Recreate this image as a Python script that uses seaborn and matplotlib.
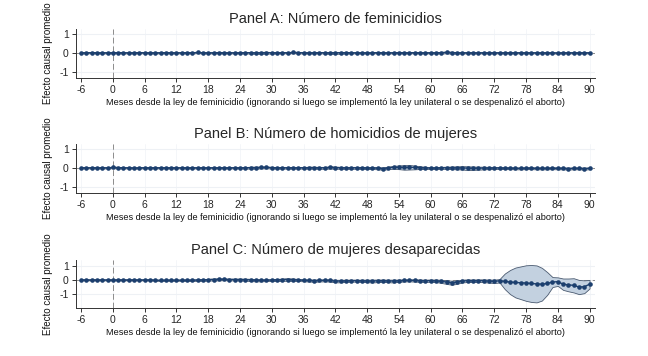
import numpy as np
import seaborn as sns
import matplotlib
matplotlib.use("Agg")
import matplotlib.pyplot as plt

# Months relative to the feminicide law
months = list(range(-6, 91))
xticks = [-6, 0, 6, 12, 18, 24, 30, 36, 42, 48, 54, 60, 66, 72, 78, 84, 90]

titles = ["Panel A: Número de feminicidios",
          "Panel B: Número de homicidios de mujeres",
          "Panel C: Número de mujeres desaparecidas"]
xlabel = "Meses desde la ley de feminicidio (ignorando si luego se implementó la ley unilateral o se despenalizó el aborto)"
ylabel = "Efecto causal promedio"

# Panel A: point estimates and CI half-widths (m = -6 .. 90)
est_a = [0.0, 0.0, 0.01, 0.0, 0.0, 0.0,
         0.0, 0.01, 0.0, 0.0, 0.0, 0.01, 0.0, 0.0, 0.0, 0.0, 0.01, 0.0,
         0.0, 0.0, 0.01, 0.0, 0.02, 0.0, 0.0, 0.0, 0.01, 0.0, 0.0, 0.0,
         0.0, 0.01, 0.0, 0.0, 0.0, 0.01, 0.0, 0.0, 0.01, 0.0, 0.02, 0.01,
         0.0, 0.0, 0.0, 0.01, 0.0, 0.0, 0.0, 0.0, 0.01, 0.0, 0.0, 0.0,
         0.0, 0.0, 0.01, 0.0, 0.0, 0.0, 0.01, 0.0, 0.0, 0.01, 0.0, 0.0,
         0.0, 0.0, 0.01, 0.02, 0.01, 0.0, 0.0, 0.0, 0.0, 0.0, 0.0, 0.0,
         0.0, 0.0, 0.0, 0.0, 0.0, 0.0, 0.0, 0.0, 0.0, 0.0, 0.0, 0.0,
         -0.01, 0.0, 0.0, 0.0, 0.0, 0.0, 0.0]
hw_a = [0.03, 0.03, 0.03, 0.03, 0.03, 0.03,
        0.03, 0.03, 0.03, 0.03, 0.03, 0.03, 0.03, 0.03, 0.03, 0.03, 0.03, 0.03,
        0.03, 0.03, 0.03, 0.03, 0.04, 0.03, 0.03, 0.03, 0.03, 0.03, 0.03, 0.03,
        0.03, 0.04, 0.04, 0.05, 0.05, 0.05, 0.04, 0.03, 0.03, 0.03, 0.04, 0.04,
        0.03, 0.03, 0.03, 0.03, 0.04, 0.05, 0.05, 0.05, 0.04, 0.03, 0.03, 0.03,
        0.03, 0.03, 0.03, 0.03, 0.03, 0.03, 0.03, 0.03, 0.03, 0.03, 0.03, 0.03,
        0.03, 0.03, 0.04, 0.05, 0.05, 0.04, 0.03, 0.03, 0.03, 0.03, 0.03, 0.03,
        0.03, 0.03, 0.03, 0.03, 0.03, 0.03, 0.03, 0.03, 0.03, 0.03, 0.03, 0.03,
        0.03, 0.03, 0.03, 0.03, 0.03, 0.03, 0.03]

# Panel B
est_b = [0.0, 0.0, 0.0, 0.0, 0.0, 0.0,
         0.02, 0.01, 0.0, 0.0, -0.01, 0.0, 0.0, 0.0, 0.0, 0.0, 0.0, 0.0,
         0.0, 0.0, 0.0, 0.0, 0.0, 0.0, 0.0, 0.0, 0.0, 0.0, 0.0, 0.0,
         0.0, 0.0, 0.01, 0.01, 0.02, 0.02, 0.01, 0.0, 0.0, 0.0, 0.0, 0.0,
         0.0, 0.01, 0.01, 0.0, 0.0, 0.02, 0.01, 0.0, 0.0, 0.0, 0.0, 0.0,
         -0.01, -0.01, -0.02, -0.04, 0.0, 0.02, 0.03, 0.02, 0.03, 0.02, 0.01, 0.0,
         -0.02, -0.01, 0.0, 0.0, 0.0, 0.0, 0.0, -0.02, -0.02, -0.02, -0.01, -0.01,
         -0.01, -0.01, -0.02, -0.02, -0.03, -0.03, -0.02, -0.02, -0.03, -0.03, -0.03, -0.02,
         -0.03, -0.03, -0.04, -0.03, -0.03, -0.04, -0.03]
hw_b = [0.03, 0.03, 0.03, 0.03, 0.03, 0.03,
        0.04, 0.04, 0.03, 0.03, 0.03, 0.03, 0.03, 0.03, 0.03, 0.03, 0.03, 0.03,
        0.03, 0.03, 0.03, 0.03, 0.03, 0.03, 0.03, 0.03, 0.03, 0.03, 0.03, 0.03,
        0.03, 0.04, 0.05, 0.05, 0.05, 0.05, 0.04, 0.04, 0.04, 0.04, 0.04, 0.04,
        0.04, 0.05, 0.05, 0.05, 0.05, 0.06, 0.06, 0.05, 0.05, 0.05, 0.05, 0.05,
        0.05, 0.05, 0.06, 0.06, 0.07, 0.08, 0.10, 0.12, 0.12, 0.10, 0.07, 0.06,
        0.05, 0.05, 0.05, 0.06, 0.07, 0.08, 0.09, 0.10, 0.09, 0.08, 0.07, 0.06,
        0.06, 0.05, 0.05, 0.05, 0.05, 0.05, 0.05, 0.05, 0.05, 0.05, 0.05, 0.05,
        0.05, 0.05, 0.05, 0.05, 0.05, 0.05, 0.05]

# Panel C
est_c = [0.0, 0.0, 0.0, 0.0, 0.0, 0.0,
         0.0, 0.0, 0.0, 0.0, 0.0, 0.0, 0.0, 0.0, -0.02, -0.03, -0.02, -0.02,
         -0.02, -0.02, -0.02, -0.02, -0.01, 0.0, 0.02, 0.03, 0.04, 0.04, 0.03, 0.03,
         0.03, 0.02, 0.0, -0.02, -0.03, -0.02, -0.01, 0.0, 0.02, 0.03, 0.02, 0.0,
         -0.03, -0.04, -0.05, -0.04, -0.03, -0.04, -0.08, -0.08, -0.06, -0.05, -0.05, -0.06,
         -0.07, -0.08, -0.06, -0.05, -0.07, -0.08, -0.05, -0.04, -0.03, -0.04, -0.05, -0.06,
         -0.05, -0.06, -0.1, -0.15, -0.2, -0.15, -0.08, -0.05, -0.06, -0.05, -0.06, -0.08,
         -0.1, -0.06, -0.1, -0.15, -0.18, -0.2, -0.22, -0.25, -0.28, -0.3, -0.25, -0.15,
         -0.12, -0.3, -0.35, -0.38, -0.5, -0.48, -0.3]
hw_c = [0.03, 0.03, 0.03, 0.03, 0.03, 0.03,
        0.03, 0.03, 0.03, 0.03, 0.03, 0.03, 0.03, 0.03, 0.04, 0.04, 0.04, 0.04,
        0.04, 0.04, 0.05, 0.05, 0.05, 0.06, 0.06, 0.07, 0.07, 0.06, 0.06, 0.06,
        0.06, 0.07, 0.08, 0.08, 0.07, 0.06, 0.06, 0.07, 0.08, 0.09, 0.08, 0.07,
        0.07, 0.07, 0.08, 0.07, 0.07, 0.08, 0.09, 0.09, 0.08, 0.07, 0.07, 0.08,
        0.09, 0.10, 0.09, 0.08, 0.09, 0.10, 0.08, 0.07, 0.07, 0.08, 0.08, 0.08,
        0.08, 0.09, 0.11, 0.13, 0.14, 0.12, 0.10, 0.09, 0.09, 0.09, 0.10, 0.11,
        0.12, 0.12, 0.55, 0.85, 1.05, 1.15, 1.25, 1.3, 1.3, 1.15, 0.8, 0.35,
        0.3, 0.4, 0.45, 0.5, 0.5, 0.45, 0.3]

ylims = [(-1.33, 1.27), (-1.33, 1.27), (-1.97, 1.41)]
# axes boxes in figure fraction [left, bottom, width, height]
boxes = [[0.117, 0.781, 0.801, 0.138],
         [0.117, 0.458, 0.801, 0.138],
         [0.117, 0.135, 0.801, 0.135]]

sns.set_style("white")
plt.rcParams['font.family'] = ['Liberation Sans', 'DejaVu Sans']
plt.rcParams['axes.unicode_minus'] = False

navy = "#1c3f6e"
band = "#c3d1e0"
edge = "#4a5a70"

fig = plt.figure(figsize=(6.48, 3.56), dpi=100)

panels = [(est_a, hw_a), (est_b, hw_b), (est_c, hw_c)]
for i, (est, hw) in enumerate(panels):
    ax = fig.add_axes(boxes[i])
    est = np.array(est)
    hw = np.array(hw)

    ax.axhline(0, color="#8c8c8c", lw=0.7, ls=(0, (6, 3)), zorder=1)
    ax.axvline(0, color="#8c8c8c", lw=0.7, ls=(0, (6, 3)), zorder=1)
    ax.fill_between(months, est - hw, est + hw, color=band, edgecolor=edge,
                    linewidth=0.6, zorder=2)
    sns.lineplot(x=months, y=est, ax=ax, color=navy, lw=1.0, marker='o',
                 markersize=3.3, markeredgewidth=0, zorder=3)

    ax.set_xlim(-7, 91)
    ax.set_ylim(*ylims[i])
    ax.set_xticks(xticks)
    ax.set_yticks([-1, 0, 1])
    ax.grid(axis='y', color="#eef1f5", lw=0.8)
    ax.grid(axis='x', color="#f3f5f8", lw=0.6)
    ax.set_axisbelow(True)
    sns.despine(ax=ax)
    for s in ['left', 'bottom']:
        ax.spines[s].set_color("#333333")
        ax.spines[s].set_linewidth(0.7)
    ax.tick_params(axis='both', which='major', direction='out', length=3,
                   width=0.7, color="#333333", labelsize=7.5, pad=2, bottom=True, left=True)
    ax.set_title(titles[i], fontsize=10.5, pad=4)
    ax.set_xlabel(xlabel, fontsize=6.6, labelpad=2, color="#111111")
    ax.set_ylabel(ylabel, fontsize=7.0, labelpad=5, color="#111111")

fig.savefig("out.png", dpi=100)
